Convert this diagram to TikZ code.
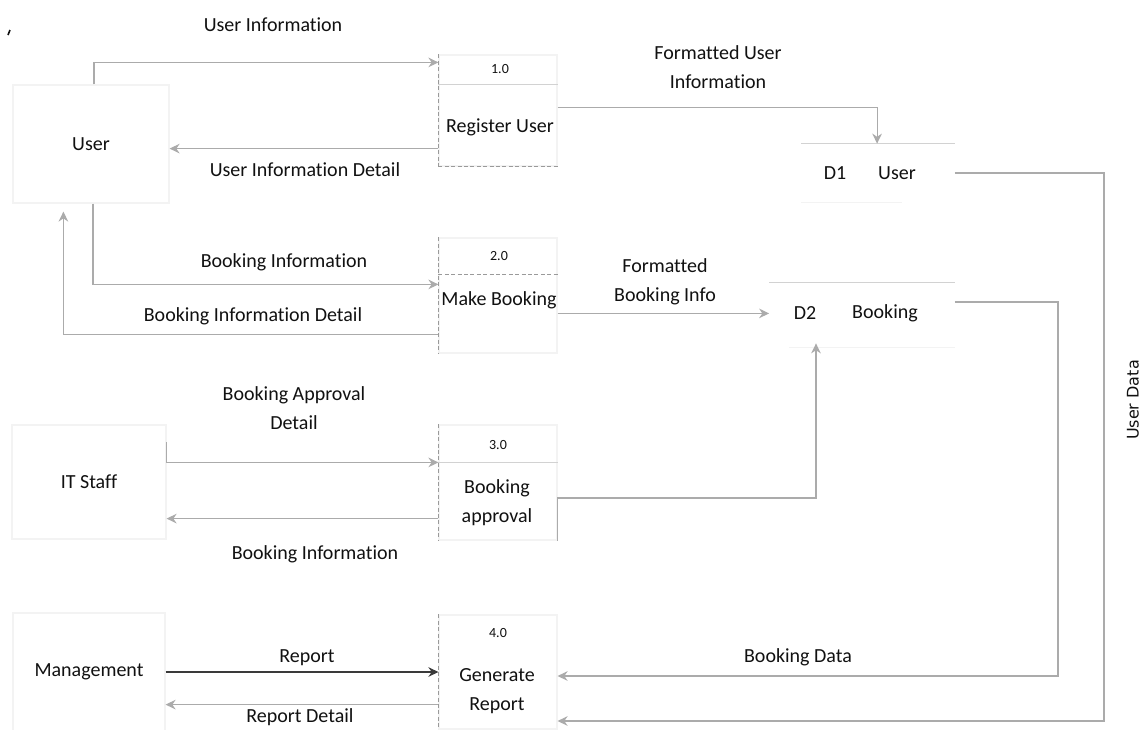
\documentclass[tikz,border=0pt]{standalone}
\usepackage{fontspec}
\setmainfont{Carlito}[Ligatures=NoCommon]
\newfontfamily\vertfont{DejaVu Sans}
\usetikzlibrary{arrows.meta,calc}

\definecolor{inkc}{HTML}{111111}
\definecolor{flowgray}{HTML}{ABABAB}
\definecolor{darkline}{HTML}{3A3A3A}
\definecolor{boxfaint}{HTML}{F3F3F3}
\definecolor{storeline}{HTML}{D2D2D2}
\definecolor{edgegray}{HTML}{9A9A9A}

\begin{document}
\begin{tikzpicture}[x=0.5pt,y=-0.5pt,
  every node/.style={text=inkc, inner sep=0pt, font=\fontsize{10}{14.5}\selectfont},
  flow/.style={draw=flowgray, line width=0.6pt, -{Stealth[length=5pt,width=4.8pt]}},
  flowdark/.style={flow, draw=darkline},
  entity/.style={draw=boxfaint, line width=0.6pt, rectangle},
  procbox/.style={draw=boxfaint, line width=0.6pt, rectangle, minimum width=59pt},
  procedge/.style={draw=edgegray, line width=0.4pt, dash pattern=on 2pt off 1.2pt},
  divider/.style={draw=storeline, line width=0.4pt},
  pid/.style={font=\fontsize{7}{8}\selectfont},
  storebox/.style={rectangle, draw=none},
  storetop/.style={draw=storeline, line width=0.5pt},
  storebottom/.style={draw=boxfaint, line width=0.6pt},
  flowlabel/.style={align=center}
]
\useasboundingbox[fill=white] (0,0) rectangle (1141,729);

% external entities
\node[entity, minimum width=78pt, minimum height=59pt] (user) at (91,144) {User};
\node[entity, minimum width=77pt, minimum height=57pt] (itstaff) at (89,482) {IT Staff};
\node[entity, minimum width=76pt, minimum height=59pt] (mgmt) at (89,672) {Management};

% processes
\node[procbox, minimum height=55.5pt] (p1) at (498,110.5) {};
\node[procbox, minimum height=57.5pt] (p2) at (498,295.5) {};
\node[procbox, minimum height=57.5pt] (p3) at (498,482.5) {};
\node[procbox, minimum height=57pt] (p4) at (498,672) {};

\foreach \p in {p1,p2,p3,p4}
  \draw[procedge] (\p.north west) -- (\p.south west);
\draw[procedge] (p1.south west) -- (p1.south east);

\draw[divider] ($(p1.north west)+(0,30)$) -- ($(p1.north east)+(0,30)$);
\draw[procedge] ($(p2.north west)+(0,37)$) -- ($(p2.north east)+(0,37)$);
\draw[divider] ($(p3.north west)+(0,38)$) -- ($(p3.north east)+(0,38)$);

\node[pid] (p1id) at (500,69) {1.0};
\node[pid] (p2id) at (499,256) {2.0};
\node[pid] (p3id) at (498,445) {3.0};
\node[pid] (p4id) at (498,633) {4.0};

\node (p1lbl) at (500,127) {Register User};
\node (p2lbl) at (499,300) {Make Booking};
\node[align=center] (p3lbl) at (497,503) {Booking\\approval};
\node[align=center] (p4lbl) at (497,691) {Generate\\Report};

% data stores
\node[storebox, minimum width=76.5pt, minimum height=29pt] (d1) at (878,173) {};
\node (d1id) at (835,173) {D1};
\node (d1nm) at (897,173) {User};
\draw[storetop] (d1.north west) -- (d1.north east);
\draw[storebottom] (d1.south west) -- ($(d1.south west)+(101,0)$);

\node[storebox, minimum width=92.5pt, minimum height=32pt] (d2) at (862,315) {};
\node (d2id) at (805,313) {D2};
\node (d2nm) at (885,313) {Booking};
\draw[storetop] (d2.north west) -- (d2.north east);
\draw[storebottom] ($(d2.south west)+(20,0)$) -- (d2.south east);

% bend points of the long return flows
\coordinate (udc) at (1104,721);
\coordinate (bdc) at (1058,676);
\coordinate (bac) at (816,498);

% data flows
\draw[flow] ($(user.north)+(3,0)$) |- ($(p1.north west)+(0,8)$);
\draw[flow] ($(p1.south west)+(0,-18)$) coordinate (uid) -- (uid -| user.east);
\draw[flow] ($(p1.north east)+(0,53)$) -| ($(d1.north west)+(76,0)$);
\draw[flow] (d1.east) -| (udc) -- (udc -| p4.east);

\draw[flow] ($(user.south)+(2,0)$) |- ($(p2.north west)+(0,47)$);
\draw[flow] ($(p2.south west)+(0,-19)$) -| ($(user.south west)+(51,8)$);
\draw[flow] ($(p2.north east)+(0,76)$) coordinate (fb) -- (fb -| d2.west);
\draw[flow] ($(d2.east)+(0,-13)$) -| (bdc) -- (bdc -| p4.east);

\draw[flow] ($(itstaff.north east)+(0,18)$) |- ($(p3.north west)+(0,38)$);
\draw[flow] ($(p3.south west)+(0,-22)$) coordinate (bi) -- (bi -| itstaff.east);
\draw[flow] (p3.south east) |- (bac) -- ($(bac |- d2.south)+(0,-4)$);

\draw[flowdark] (mgmt.east) -- (mgmt.east -| p4.west);
\draw[flow] ($(p4.south west)+(0,-25)$) coordinate (rd) -- (rd -| mgmt.east);

% flow labels
\node (lUI) at (273,25) {User Information};
\node (lUID) at (305,170) {User Information Detail};
\node[flowlabel] (lFUI) at (718,67) {Formatted User\\Information};
\node (lBI) at (284,262) {Booking Information};
\node (lBID) at (253,316) {Booking Information Detail};
\node[flowlabel] (lFBI) at (665,282) {Formatted\\Booking Info};
\node[flowlabel] (lBAD) at (294,408) {Booking Approval\\Detail};
\node (lBI2) at (315,554) {Booking Information};
\node (lRep) at (307,658) {Report};
\node (lRD) at (300,717) {Report Detail};
\node (lBD) at (798,657) {Booking Data};
\node[rotate=90, font=\vertfont\fontsize{8}{10}\selectfont] (lUD) at (1133,400) {User Data};

% stray pen mark near the top left corner
\draw[line width=0.8pt, inkc] (8,35) -- (10,30);
\end{tikzpicture}
\end{document}
